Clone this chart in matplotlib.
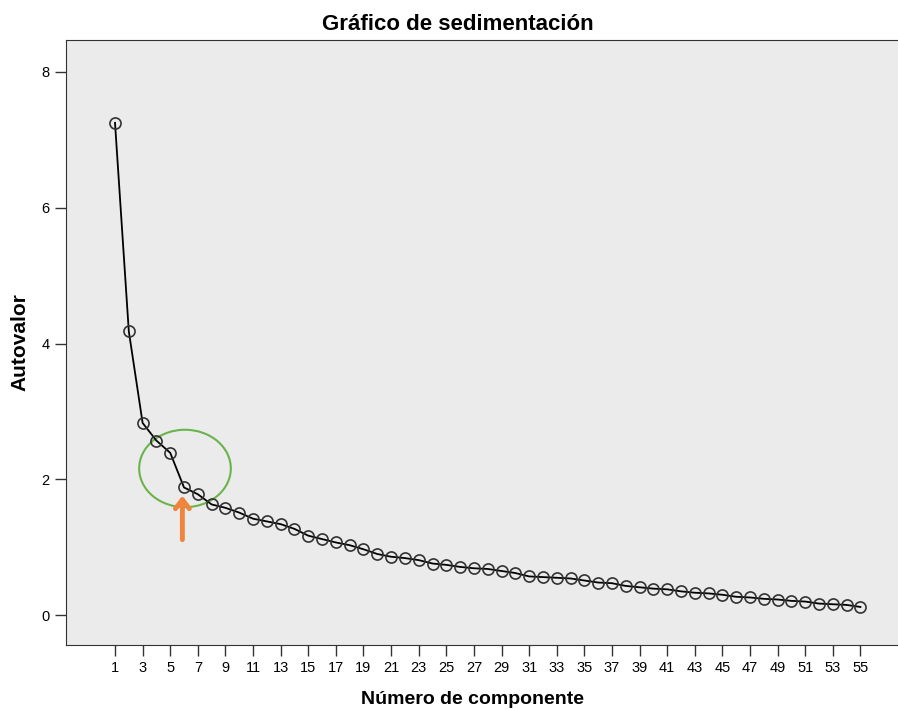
import matplotlib.pyplot as plt
from matplotlib.patches import Ellipse

plt.rcParams['font.family'] = ['Liberation Sans', 'DejaVu Sans']

# eigenvalues
componentes = list(range(1, 56))
autovalores = [7.25, 4.18, 2.83, 2.57, 2.39, 1.88, 1.78, 1.63, 1.58, 1.51,
               1.42, 1.38, 1.34, 1.27, 1.17, 1.12, 1.07, 1.03, 0.97, 0.90,
               0.86, 0.84, 0.81, 0.76, 0.74, 0.71, 0.69, 0.68, 0.65, 0.62,
               0.57, 0.56, 0.55, 0.54, 0.51, 0.48, 0.47, 0.43, 0.41, 0.39,
               0.38, 0.35, 0.33, 0.32, 0.30, 0.27, 0.26, 0.24, 0.23, 0.21,
               0.20, 0.17, 0.16, 0.15, 0.12]
xticks = list(range(1, 56, 2))
yticks = [0, 2, 4, 6, 8]

fig = plt.figure(figsize=(8.98, 7.10), dpi=100)
ax = fig.add_axes([66/898, 65/710, 840/898, 605/710])
ax.set_facecolor('#ebebeb')

ax.plot(componentes, autovalores, color='black', lw=1.3, marker='o',
        markersize=8, markerfacecolor='none', markeredgecolor='#333333',
        markeredgewidth=1.2)

# highlight of the elbow
ax.add_patch(Ellipse((6.07, 2.16), 6.64, 1.14, fill=False,
                     edgecolor='#6ab44c', lw=1.5))
ax.annotate('', xy=(5.88, 1.80), xytext=(5.88, 1.07),
            arrowprops=dict(arrowstyle='->,head_width=0.5,head_length=0.65',
                            color='#f0843c', lw=3.5))

ax.set_xlim(-2.55, 58.3)
ax.set_ylim(-0.44, 8.47)
ax.set_xticks(xticks)
ax.set_yticks(yticks)
ax.tick_params(axis='both', labelsize=10.5, length=8, width=1, color='#333333')
ax.tick_params(axis='y', pad=4)
for s in ax.spines.values():
    s.set_color('#333333')

# the right edge of the plot is cut off, so centre texts on the visible part
ax.set_title('Gráfico de sedimentación', fontsize=16, fontweight='bold',
             pad=7, x=0.466)
ax.set_xlabel('Número de componente', fontsize=14, fontweight='bold')
ax.xaxis.set_label_coords(0.4845, -0.076)
ax.set_ylabel('Autovalor', fontsize=15, fontweight='bold', labelpad=8)

fig.savefig('out.png', dpi=100)
